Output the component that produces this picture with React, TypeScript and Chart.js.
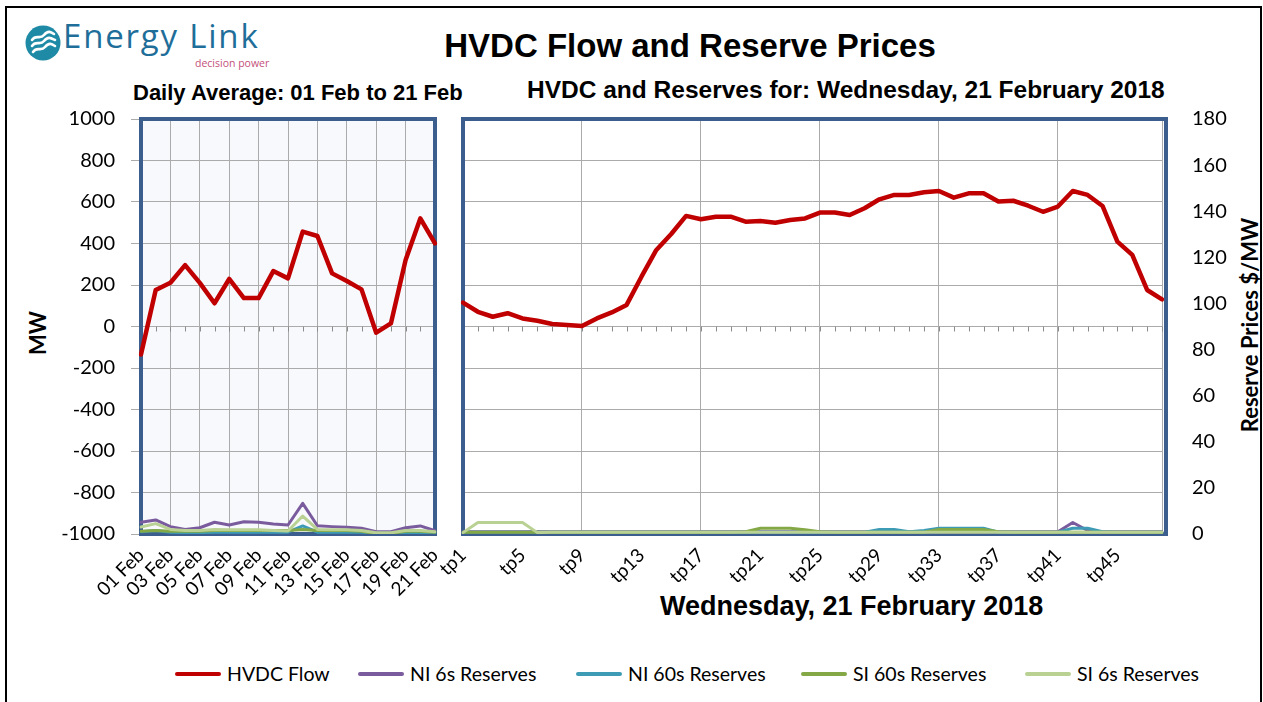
import React, { useEffect, useRef } from "react";
import { Chart, registerables } from "chart.js";

Chart.register(...registerables);

// ---------------- data ----------------
const dailyLabels = [
  "01 Feb", "02 Feb", "03 Feb", "04 Feb", "05 Feb", "06 Feb", "07 Feb",
  "08 Feb", "09 Feb", "10 Feb", "11 Feb", "12 Feb", "13 Feb", "14 Feb",
  "15 Feb", "16 Feb", "17 Feb", "18 Feb", "19 Feb", "20 Feb", "21 Feb",
];
const dailyHvdc = [-135, 176, 211, 296, 210, 112, 229, 137, 137, 267, 232, 457, 436, 256, 219, 179, -30, 15, 320, 521, 401];
const dailyNi6 = [5.1, 6.1, 3.2, 2.0, 2.7, 5.1, 3.9, 5.3, 5.1, 4.3, 3.9, 13.3, 3.6, 3.2, 2.9, 2.5, 1.0, 1.0, 2.7, 3.5, 1.4];
const dailyNi60 = [1.0, 1.5, 0.8, 0.6, 0.6, 0.8, 0.8, 0.8, 0.8, 0.8, 0.8, 3.5, 0.8, 0.8, 0.8, 0.8, 0.3, 0.3, 0.6, 0.6, 0.6];
const dailySi60 = [1.2, 1.5, 1.2, 1.2, 1.2, 1.5, 1.5, 1.5, 1.5, 1.5, 1.5, 2.0, 1.5, 1.5, 1.5, 1.2, 0.2, 0.2, 1.2, 1.2, 0.8];
const dailySi6 = [3.0, 4.5, 2.0, 1.5, 1.5, 2.0, 1.8, 1.8, 1.8, 1.5, 1.3, 7.8, 2.0, 1.8, 1.8, 1.5, 0.5, 0.5, 1.5, 1.5, 1.0];

const tpLabels = [
  "tp1", "tp2", "tp3", "tp4", "tp5", "tp6", "tp7", "tp8", "tp9", "tp10",
  "tp11", "tp12", "tp13", "tp14", "tp15", "tp16", "tp17", "tp18", "tp19", "tp20",
  "tp21", "tp22", "tp23", "tp24", "tp25", "tp26", "tp27", "tp28", "tp29", "tp30",
  "tp31", "tp32", "tp33", "tp34", "tp35", "tp36", "tp37", "tp38", "tp39", "tp40",
  "tp41", "tp42", "tp43", "tp44", "tp45", "tp46", "tp47", "tp48",
];
const tpHvdc = [
  115, 71, 47, 64, 39, 28, 12, 7, 2, 39,
  68, 104, 240, 369, 446, 533, 517, 529, 529, 505,
  508, 500, 513, 521, 549, 549, 537, 570, 613, 634,
  634, 647, 653, 621, 642, 642, 602, 606, 582, 553,
  578, 653, 634, 581, 409, 345, 176, 131,
];
const tpNi6 = [
  1, 1, 1, 1, 1, 1, 1, 1, 1, 1,
  1, 1, 1, 1, 1, 1, 1, 1, 1, 1,
  1, 1, 1, 1, 1, 1, 1, 1, 1, 1,
  1, 1, 1, 1, 1, 1, 1, 1, 1, 1,
  1, 5, 1.5, 1, 1, 1, 1, 1,
];
const tpNi60 = [
  0.8, 0.8, 0.8, 0.8, 0.8, 0.8, 0.8, 0.8, 0.8, 0.8,
  0.8, 0.8, 0.8, 0.8, 0.8, 0.8, 0.8, 0.8, 0.8, 0.8,
  0.8, 0.8, 0.8, 0.8, 0.8, 0.8, 0.8, 0.8, 2, 2,
  1, 1.5, 2.5, 2.5, 2.5, 2.5, 0.8, 0.8, 0.8, 0.8,
  0.8, 2.5, 2.5, 1, 0.8, 0.8, 0.8, 0.8,
];
const tpSi60 = [
  0.8, 0.8, 0.8, 0.8, 0.8, 0.8, 0.8, 0.8, 0.8, 0.8,
  0.8, 0.8, 0.8, 0.8, 0.8, 0.8, 0.8, 0.8, 0.8, 1,
  2.5, 2.5, 2.5, 1.8, 1, 0.8, 0.8, 0.8, 0.8, 0.8,
  0.8, 0.8, 2, 2, 2, 2, 1, 0.8, 0.8, 0.8,
  0.8, 0.8, 0.8, 0.8, 0.8, 0.8, 0.8, 0.8,
];
const tpSi6 = [
  0.6, 5, 5, 5, 5, 0.6, 0.8, 0.8, 0.8, 0.8,
  0.8, 0.8, 0.8, 0.8, 0.8, 0.8, 0.8, 0.8, 0.8, 0.8,
  0.8, 0.8, 0.8, 0.8, 0.8, 0.8, 0.8, 0.8, 0.8, 0.8,
  0.8, 0.8, 0.8, 0.8, 0.8, 0.8, 0.8, 0.8, 0.8, 0.8,
  0.8, 0.8, 0.8, 0.8, 0.8, 0.8, 0.8, 0.8,
];

const seriesNames = ["HVDC Flow", "NI 6s Reserves", "NI 60s Reserves", "SI 60s Reserves", "SI 6s Reserves"];
const mwRange = { min: -1000, max: 1000, step: 200 };
const priceRange = { min: 0, max: 180, step: 20 };

// ---------------- style ----------------
const COLORS = ["#C00000", "#7A5C9E", "#3E9BB5", "#84A845", "#B9D193"];
const GRID = "#ABABAB";
const FRAME = "#3B5E8E";
const SANS = "Lato, 'Open Sans', sans-serif";
const ARIAL = "'Liberation Sans', Arial, sans-serif";
const legendLeft = [175, 358, 576, 801, 1025];

const panelPlugin = {
  id: "panel",
  beforeDraw(chart: any, _args: any, opts: any) {
    const { ctx, chartArea: a } = chart;
    if (opts.background) {
      ctx.save();
      ctx.fillStyle = opts.background;
      ctx.fillRect(a.left, a.top, a.right - a.left, a.bottom - a.top);
      ctx.restore();
    }
  },
  beforeDatasetsDraw(chart: any, _args: any, opts: any) {
    const { ctx, chartArea: a, scales } = chart;
    const xs = scales.x;
    const y0 = scales.y.getPixelForValue(0);
    ctx.save();
    ctx.strokeStyle = "#8C8C8C";
    ctx.lineWidth = 1;
    ctx.beginPath();
    for (let i = 0; i < xs.ticks.length; i++) {
      const px = Math.round(xs.getPixelForTick(i)) + 0.5;
      ctx.moveTo(px, y0);
      ctx.lineTo(px, y0 + 5);
    }
    ctx.stroke();
    ctx.strokeStyle = FRAME;
    ctx.lineWidth = 4;
    ctx.strokeRect(a.left, a.top, a.right - a.left + (opts.extraRight || 0), a.bottom - a.top);
    ctx.restore();
  },
};

function makeDatasets(hvdc: number[], ni6: number[], ni60: number[], si60: number[], si6: number[]) {
  const sets = [hvdc, ni6, ni60, si60, si6];
  return sets.map((d, i) => ({
    label: seriesNames[i],
    data: d,
    yAxisID: i === 0 ? "y" : "y2",
    borderColor: COLORS[i],
    backgroundColor: COLORS[i],
    borderWidth: i === 0 ? 4.5 : 3,
    order: i === 0 ? 0 : 5 - i,
    pointRadius: 0,
    tension: 0,
    borderJoinStyle: "round" as const,
    borderCapStyle: "round" as const,
  }));
}

const tickFont = { family: SANS, size: 20 };
const xTickFont = { family: SANS, size: 19 };
const plain = (v: any) => String(v);

function leftConfig(): any {
  return {
    type: "line",
    data: { labels: dailyLabels, datasets: makeDatasets(dailyHvdc, dailyNi6, dailyNi60, dailySi60, dailySi6) },
    plugins: [panelPlugin],
    options: {
      animation: false,
      responsive: false,
      maintainAspectRatio: false,
      layout: { padding: { left: 0, top: 28, right: 30, bottom: 0 } },
      plugins: {
        legend: { display: false },
        tooltip: { enabled: false },
        panel: { background: "#F7F9FC" },
      },
      scales: {
        x: {
          type: "category",
          offset: false,
          grid: { color: (c: any) => (c.index % 2 === 0 ? GRID : "rgba(0,0,0,0)"), drawTicks: false },
          border: { display: false },
          ticks: {
            autoSkip: false,
            minRotation: 45,
            maxRotation: 45,
            padding: 10,
            color: "#000",
            font: xTickFont,
            callback: (_v: any, i: number) => (i % 2 === 0 ? dailyLabels[i] : ""),
          },
          afterFit: (s: any) => { s.height = 106; },
        },
        y: {
          min: mwRange.min,
          max: mwRange.max,
          ticks: { stepSize: mwRange.step, padding: 16, color: "#000", font: tickFont, callback: plain },
          grid: { color: GRID, tickLength: 10 },
          border: { display: false },
          afterFit: (s: any) => { s.width = 141; },
        },
        y2: { display: false, min: priceRange.min, max: priceRange.max },
      },
    },
  };
}

function rightConfig(): any {
  return {
    type: "line",
    data: { labels: tpLabels, datasets: makeDatasets(tpHvdc, tpNi6, tpNi60, tpSi60, tpSi6) },
    plugins: [panelPlugin],
    options: {
      animation: false,
      responsive: false,
      maintainAspectRatio: false,
      layout: { padding: { left: 33, top: 42, right: 0, bottom: 0 } },
      plugins: {
        legend: { display: false },
        tooltip: { enabled: false },
        panel: { extraRight: 4 },
      },
      scales: {
        x: {
          type: "category",
          offset: false,
          grid: {
            color: (c: any) => (c.index % 8 === 0 || c.index === tpLabels.length - 1 ? GRID : "rgba(0,0,0,0)"),
            drawTicks: false,
          },
          border: { display: false },
          ticks: {
            autoSkip: false,
            minRotation: 45,
            maxRotation: 45,
            padding: 10,
            color: "#000",
            font: xTickFont,
            callback: (_v: any, i: number) => (i % 4 === 0 ? tpLabels[i] : ""),
          },
          afterFit: (s: any) => { s.height = 106; },
        },
        y: {
          position: "left",
          min: mwRange.min,
          max: mwRange.max,
          ticks: { display: false, stepSize: mwRange.step },
          grid: { color: GRID, drawTicks: false },
          border: { display: false },
          afterFit: (s: any) => { s.width = 0; },
        },
        y2: {
          position: "right",
          min: priceRange.min,
          max: priceRange.max,
          ticks: { stepSize: priceRange.step, padding: 30, color: "#000", font: tickFont, callback: plain },
          grid: { display: false, drawTicks: false },
          border: { display: false },
          afterFit: (s: any) => { s.width = 101; },
        },
      },
    },
  };
}

function ChartCanvas({ config, left, top, width, height }: any) {
  const ref = useRef<HTMLCanvasElement>(null);
  useEffect(() => {
    const chart = new Chart(ref.current as HTMLCanvasElement, config());
    return () => chart.destroy();
  }, []);
  return (
    <canvas
      ref={ref}
      width={width}
      height={height}
      style={{ position: "absolute", left, top, width, height }}
    />
  );
}

function Text({ children, style }: any) {
  return (
    <div style={{ position: "absolute", whiteSpace: "nowrap", lineHeight: 1, color: "#000", ...style }}>
      {children}
    </div>
  );
}

export default function App() {
  return (
    <div
      style={{
        position: "absolute",
        left: 0,
        top: 0,
        width: 1263,
        height: 702,
        overflow: "hidden",
        background: "#fff",
      }}
    >
      <div
        style={{
          position: "absolute",
          left: 5,
          top: 6,
          width: 1257,
          height: 720,
          border: "2px solid #000",
          boxSizing: "border-box",
        }}
      />

      {/* logo */}
      <svg style={{ position: "absolute", left: 25, top: 25 }} width={36} height={36} viewBox="0 0 36 36">
        <circle cx={18} cy={18} r={17.5} fill="#1E8AA6" />
        <path d="M7 15 C11 9, 15 15, 19 10 S 26 7, 29 9" stroke="#fff" strokeWidth={2.6} fill="none" strokeLinecap="round" />
        <path d="M7 21 C11 15, 15 21, 19 16 S 26 13, 30 15" stroke="#fff" strokeWidth={2.6} fill="none" strokeLinecap="round" />
        <path d="M8 27 C12 21, 16 27, 20 22 S 27 19, 30 21" stroke="#fff" strokeWidth={2.6} fill="none" strokeLinecap="round" />
      </svg>
      <Text style={{ left: 63, top: 19, fontFamily: "'Open Sans', sans-serif", fontSize: 33, color: "#1F6E99", letterSpacing: 1.8 }}>
        Energy Link
      </Text>
      <Text style={{ left: 195, top: 58, width: 63, fontFamily: "'Open Sans', sans-serif", fontSize: 10.5, color: "#C4507A", textAlign: "right" }}>
        decision power
      </Text>

      {/* titles */}
      <Text style={{ left: 440, top: 29, width: 500, textAlign: "center", fontFamily: ARIAL, fontWeight: 700, fontSize: 33 }}>
        HVDC Flow and Reserve Prices
      </Text>
      <Text style={{ left: 133, top: 82, fontFamily: ARIAL, fontWeight: 700, fontSize: 22 }}>
        Daily Average: 01 Feb to 21 Feb
      </Text>
      <Text style={{ left: 527, top: 78, fontFamily: ARIAL, fontWeight: 700, fontSize: 24.5 }}>
        HVDC and Reserves for: Wednesday, 21 February 2018
      </Text>
      <Text style={{ left: 660, top: 593, fontFamily: ARIAL, fontWeight: 700, fontSize: 27 }}>
        Wednesday, 21 February 2018
      </Text>

      {/* axis titles */}
      <Text style={{ left: 38, top: 333, transform: "translate(-50%, -50%) rotate(-90deg)", fontFamily: SANS, fontWeight: 700, fontSize: 22 }}>
        MW
      </Text>
      <Text style={{ left: 1250, top: 325, transform: "translate(-50%, -50%) rotate(-90deg)", fontFamily: SANS, fontWeight: 700, fontSize: 22 }}>
        Reserve Prices $/MW
      </Text>

      <ChartCanvas config={leftConfig} left={0} top={91} width={465} height={549} />
      <ChartCanvas config={rightConfig} left={430} top={77} width={833} height={563} />

      {/* legend */}
      {seriesNames.map((name, i) => (
        <div
          key={name}
          style={{ position: "absolute", left: legendLeft[i], top: 662, height: 24, display: "flex", alignItems: "center", whiteSpace: "nowrap" }}
        >
          <span style={{ display: "inline-block", width: 46, height: 4.5, borderRadius: 2.5, background: COLORS[i] }} />
          <span style={{ marginLeft: 6, fontFamily: SANS, fontSize: 19.5, lineHeight: 1, color: "#000" }}>{name}</span>
        </div>
      ))}
    </div>
  );
}
